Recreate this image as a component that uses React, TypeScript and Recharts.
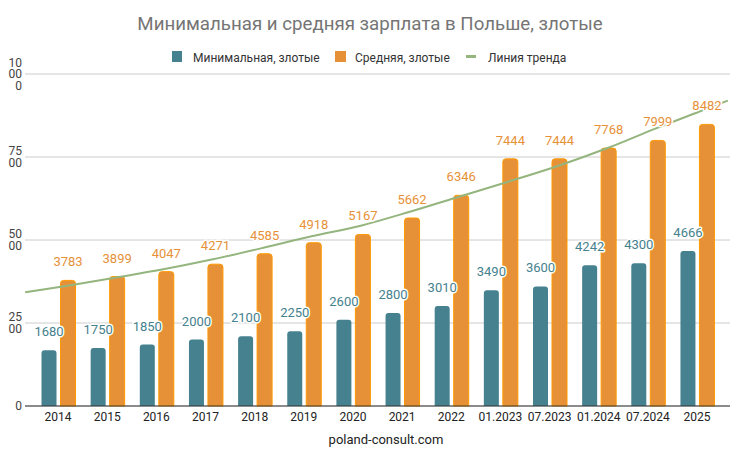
import React from 'react';
import { ComposedChart, Bar, Line, XAxis, YAxis, CartesianGrid, LabelList } from 'recharts';

const categories = ['2014', '2015', '2016', '2017', '2018', '2019', '2020', '2021', '2022', '01.2023', '07.2023', '01.2024', '07.2024', '2025'];
const minimalWage = [1680, 1750, 1850, 2000, 2100, 2250, 2600, 2800, 3010, 3490, 3600, 4242, 4300, 4666];
const averageWage = [3783, 3899, 4047, 4271, 4585, 4918, 5167, 5662, 6346, 7444, 7444, 7768, 7999, 8482];

// trend line, x is the category index
const trendX = [-0.67, 0.16, 1.16, 2.14, 3.15, 4.11, 5.16, 6.16, 7.16, 8.16, 9.16, 10.17, 11.17, 12.17, 13.16, 13.63];
const trendValues = [3425, 3614, 3865, 4117, 4418, 4740, 5110, 5431, 5852, 6304, 6756, 7229, 7762, 8364, 8930, 9200];

const yTicks = [0, 2500, 5000, 7500, 10000];

const TEAL = '#45818e';
const ORANGE = '#e69138';
const GREEN = '#94b57e';
const FONT = 'Roboto, sans-serif';

const data = categories.map((c, i) => ({ year: c, min: minimalWage[i], avg: averageWage[i] }));
const trendData = trendX.map((x, i) => ({ x, v: trendValues[i] }));

const YTick = (props: any) => {
  const { y, payload } = props;
  const s = String(payload.value);
  const parts = s.match(/.{1,2}/g) ?? [s];
  const lh = 11.5;
  const start = y - ((parts.length - 1) * lh) / 2;
  return (
    <text x={22} y={start} textAnchor="end" fontSize={12} fill="#444" fontFamily={FONT} dominantBaseline="central">
      {parts.map((p, i) => (
        <tspan key={i} x={22} y={start + i * lh}>{p}</tspan>
      ))}
    </text>
  );
};

const XTick = (props: any) => {
  const { x, payload } = props;
  return (
    <text x={x} y={421} textAnchor="middle" fontSize={12} fill="#222" fontFamily={FONT}>
      {payload.value}
    </text>
  );
};

const makeLabel = (color: string) => (props: any) => {
  const { x, y, width, value } = props;
  return (
    <text
      x={x + width / 2}
      y={y - 14}
      textAnchor="middle"
      fontSize={13}
      fill={color}
      stroke="#fff"
      strokeWidth={3}
      strokeLinejoin="round"
      paintOrder="stroke"
      fontFamily={FONT}
    >
      {value}
    </text>
  );
};

export default function App() {
  return (
    <div style={{ position: 'absolute', left: 0, top: 0, width: 750, height: 455, background: '#fff' }}>
      <ComposedChart width={750} height={455} data={data} margin={{ top: 74, right: 20, bottom: 19, left: 0 }}>
        <CartesianGrid vertical={false} stroke="#ccc" />
        <XAxis
          dataKey="year"
          height={30}
          padding={{ left: 8.5, right: 8.4 }}
          tickLine={false}
          axisLine={{ stroke: '#333' }}
          tick={<XTick />}
          interval={0}
        />
        <XAxis xAxisId="trend" type="number" dataKey="x" domain={[-0.673, 13.674]} hide allowDataOverflow />
        <YAxis
          width={25}
          domain={[0, 10000]}
          ticks={yTicks}
          tickLine={false}
          axisLine={false}
          tick={<YTick />}
        />
        <Bar dataKey="min" fill={TEAL} barSize={15} radius={[3, 3, 0, 0]} isAnimationActive={false}>
          <LabelList dataKey="min" content={makeLabel(TEAL)} />
        </Bar>
        <Bar dataKey="avg" fill={ORANGE} stroke="#f90" strokeWidth={1} barSize={15} radius={[3, 3, 0, 0]} isAnimationActive={false}>
          <LabelList dataKey="avg" content={makeLabel(ORANGE)} />
        </Bar>
        <Line
          xAxisId="trend"
          data={trendData}
          dataKey="v"
          type="monotone"
          stroke={GREEN}
          strokeWidth={2}
          dot={false}
          activeDot={false}
          isAnimationActive={false}
        />
      </ComposedChart>
      <svg width={750} height={455} style={{ position: 'absolute', left: 0, top: 0, pointerEvents: 'none' }} fontFamily={FONT}>
        <text x={370} y={30} textAnchor="middle" fontSize={18.7} fill="#757575">
          Минимальная и средняя зарплата в Польше, злотые
        </text>
        <rect x={172} y={51} width={10} height={11} fill={TEAL} />
        <text x={193} y={61.5} fontSize={12} fill="#333">Минимальная, злотые</text>
        <rect x={335} y={51} width={11} height={11} fill={ORANGE} />
        <text x={355} y={61.5} fontSize={12} fill="#333">Средняя, злотые</text>
        <rect x={466} y={55} width={10} height={3} fill={GREEN} />
        <text x={488} y={61.5} fontSize={12} fill="#333">Линия тренда</text>
        <text x={386} y={443.5} textAnchor="middle" fontSize={13} fill="#222">poland-consult.com</text>
      </svg>
    </div>
  );
}
